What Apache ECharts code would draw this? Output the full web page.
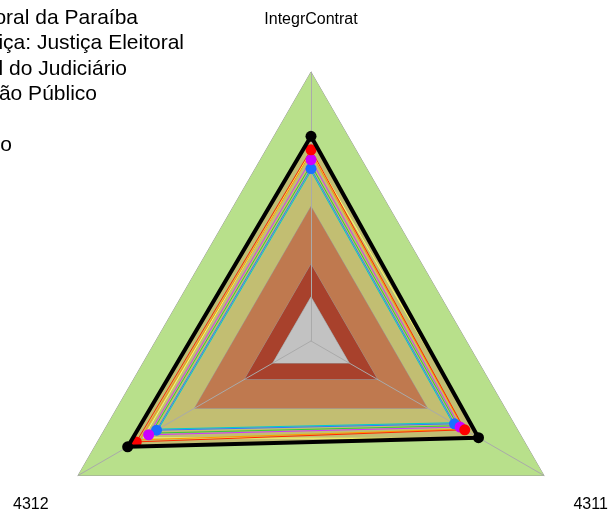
<!DOCTYPE html>
<html><head><meta charset="utf-8">
<script src="https://cdn.jsdelivr.net/npm/echarts@6/dist/echarts.min.js"></script>
<style>html,body{margin:0;padding:0;background:#fff}#c{width:610px;height:514px}</style>
</head><body><div id="c"></div>
<script>
// ---- data ----
const indicators = ['IntegrContrat', '4312', '4311'];
const bandLevels = [1, 0.5, 0.285, 0.164];
const legendLabels = [
  'Tribunal Regional Eleitoral da Paraíba',
  'Segmento de Justiça: Justiça Eleitoral',
  'Média Geral do Judiciário',
  'Média de Órgão Público',
  'Mínimo',
  'Máximo'
];
const blackVals   = [0.761, 0.787, 0.719];
const redVals     = [0.711, 0.750, 0.660];
const orangeVals  = [0.700, 0.735, 0.655];
const yellowVals  = [0.705, 0.720, 0.725];
const magentaVals = [0.674, 0.697, 0.640];
const greenVals   = [0.655, 0.685, 0.630];
const blueVals    = [0.641, 0.663, 0.616];
const cyanVals    = [0.632, 0.655, 0.608];

// ---- styles ----
const bandColors = ['#b8e08b', '#bf794f', '#a8412c', '#c2c2c2'];
const FONT = 'Liberation Sans, Arial, sans-serif';

const chart = echarts.init(document.getElementById('c'), null, {renderer: 'canvas'});

const bandSeries = (i) => ({
  type: 'radar', z: 1, silent: true, symbol: 'none',
  lineStyle: {color: '#9a9a9a', width: 1},
  areaStyle: {color: bandColors[i], opacity: 1},
  data: [{value: indicators.map(() => bandLevels[i])}]
});

const lineSeries = (name, vals, color, width, sym, symColor, z) => ({
  type: 'radar', name: name, z: z, silent: true,
  symbol: sym ? 'circle' : 'none', symbolSize: 11,
  itemStyle: {color: symColor || color},
  lineStyle: {color: color, width: width},
  data: [{value: vals}]
});

const legendEnds = [138, 184, 127, 97, -4, 12];
const legendY = [18, 43.5, 69, 94.5, 120, 145.5];

chart.setOption({
  animation: false,
  backgroundColor: '#ffffff',
  radar: {
    z: 2,
    center: [311, 341], radius: 269, startAngle: 90, shape: 'polygon', splitNumber: 1,
    indicator: indicators.map(n => ({name: n, min: 0, max: 1})),
    nameGap: 34,
    axisName: {
      color: '#000', fontSize: 16, fontFamily: FONT,
      formatter: (name) => name === indicators[0] ? name + '\n{u|}' : '{s|}\n' + name,
      rich: {s: {height: 24, lineHeight: 24}, u: {height: 10, lineHeight: 10}}
    },
    splitLine: {show: false}, splitArea: {show: false},
    axisLine: {lineStyle: {color: '#aaaaaa', width: 1}},
    axisTick: {show: false}, axisLabel: {show: false}
  },
  graphic: legendLabels.map((t, i) => ({
    type: 'text', silent: true,
    style: {text: t, x: legendEnds[i], y: legendY[i], textAlign: 'right', textVerticalAlign: 'middle',
            fontSize: 21, fontFamily: FONT, fill: '#000'}
  })),
  series: [
    bandSeries(0),
    {type: 'radar', z: 1, silent: true, symbol: 'none', lineStyle: {width: 0},
     areaStyle: {color: '#c2be72', opacity: 1}, data: [{value: blackVals}]},
    bandSeries(1), bandSeries(2), bandSeries(3),
    lineSeries('amarelo', yellowVals, '#ffff66', 1, false, null, 3),
    lineSeries('laranja', orangeVals, '#ff9900', 1, false, null, 3),
    lineSeries('verde', greenVals, '#33cc33', 1, false, null, 3),
    lineSeries('ciano', cyanVals, '#00cccc', 1, false, null, 3),
    lineSeries(legendLabels[3], blueVals, '#3377ff', 1, true, '#1a6fff', 4),
    lineSeries(legendLabels[2], magentaVals, '#cc33ff', 1, true, '#cc00ff', 4),
    lineSeries(legendLabels[1], redVals, '#ff2a00', 1, true, '#ff0000', 4),
    lineSeries(legendLabels[0], blackVals, '#000000', 4, true, '#000000', 5)
  ]
});
</script></body></html>
